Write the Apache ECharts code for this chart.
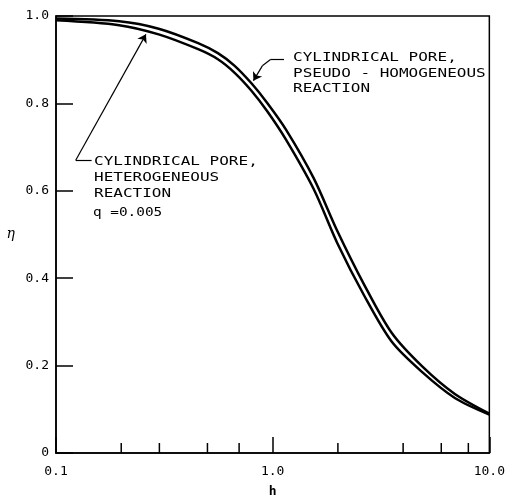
<!DOCTYPE html>
<html lang="en">
<head>
    <meta charset="UTF-8">
    <title>Effectiveness factor, cylindrical pore</title>
    <script src="https://cdn.jsdelivr.net/npm/echarts@6/dist/echarts.min.js"></script>
    <style>
        html, body { margin: 0; padding: 0; background: #fff; }
        #box { width: 508px; height: 503px; }
    </style>
</head>
<body>
<div id="box"></div>
<script>
    // h values and eta (both curves share the h grid)
    var hValues = [0.1, 0.1957, 0.2977, 0.4529, 0.5587, 0.6677, 0.798, 0.944, 1.152, 1.546, 1.988, 2.639, 3.54, 4.9, 6.928, 10];
    var etaPseudo = [0.994, 0.988, 0.971, 0.938, 0.915, 0.886, 0.846, 0.801, 0.740, 0.629, 0.508, 0.386, 0.275, 0.198, 0.135, 0.090];
    var etaHetero = [0.990, 0.979, 0.958, 0.924, 0.901, 0.870, 0.829, 0.782, 0.717, 0.604, 0.480, 0.361, 0.255, 0.185, 0.126, 0.088];

    // small ticks along the h axis
    var hMinorTicks = [0.2, 0.3, 0.5, 0.7, 2, 4, 6, 8];

    var labelFont = 'DejaVu Sans Mono';

    function pairs(xs, ys) {
        var out = [];
        for (var i = 0; i < xs.length; i++) {
            out.push([xs[i], ys[i]]);
        }
        return out;
    }

    var myChart = echarts.init(document.getElementById('box'));

    var leader = {
        silent: true,
        animation: false,
        symbol: ['none', 'none'],
        symbolSize: 8,
        label: { show: false },
        lineStyle: { color: '#000', width: 1.2, type: 'solid' },
        emphasis: { disabled: true }
    };

    var option = {
        animation: false,
        backgroundColor: '#fff',
        grid: {
            left: 56, right: 13, top: 16, bottom: 44,
            show: true, borderColor: '#000', borderWidth: 1.5,
            backgroundColor: 'transparent'
        },
        xAxis: {
            type: 'log',
            logBase: 10,
            min: 0.1,
            max: 10,
            name: 'h',
            nameLocation: 'middle',
            nameGap: 32,
            nameTextStyle: { fontFamily: labelFont, fontSize: 13, color: '#000', fontWeight: 'bold' },
            axisLine: { lineStyle: { color: '#000', width: 1.5 } },
            axisTick: { inside: true, length: 16, lineStyle: { color: '#000', width: 1.5 } },
            axisLabel: {
                color: '#000', fontFamily: labelFont, fontSize: 13, margin: 12,
                formatter: function (v) { return v.toFixed(1); }
            },
            splitLine: { show: false }
        },
        yAxis: {
            type: 'value',
            min: 0,
            max: 1,
            interval: 0.2,
            name: 'η',
            nameLocation: 'middle',
            nameRotate: 0,
            nameGap: 41,
            nameTextStyle: { fontFamily: 'DejaVu Serif', fontSize: 14, color: '#000', fontStyle: 'italic' },
            axisLine: { lineStyle: { color: '#000', width: 1.5 } },
            axisTick: { inside: true, length: 17, lineStyle: { color: '#000', width: 1.5 } },
            axisLabel: {
                color: '#000', fontFamily: labelFont, fontSize: 13, margin: 7,
                formatter: function (v) { return v === 0 ? '0' : v.toFixed(1); }
            },
            splitLine: { show: false }
        },
        series: [
            {
                name: 'Cylindrical pore, pseudo-homogeneous reaction',
                type: 'line',
                data: pairs(hValues, etaPseudo),
                smooth: 0.3,
                showSymbol: false,
                lineStyle: { color: '#000', width: 2.5 },
                silent: true,
                markLine: Object.assign({}, leader, {
                    data: [
                        [{ coord: [1.128, 0.90] }, { coord: [0.974, 0.90] }],
                        [{ coord: [0.974, 0.90] }, { coord: [0.896, 0.886] }],
                        [{ coord: [0.896, 0.886] }, { coord: [0.815, 0.852], symbol: 'arrow' }]
                    ]
                })
            },
            {
                name: 'Cylindrical pore, heterogeneous reaction',
                type: 'line',
                data: pairs(hValues, etaHetero),
                smooth: 0.3,
                showSymbol: false,
                lineStyle: { color: '#000', width: 2.5 },
                silent: true,
                markLine: Object.assign({}, leader, {
                    data: [
                        [{ coord: [0.146, 0.670] }, { coord: [0.1233, 0.670] }],
                        [{ coord: [0.1233, 0.670] }, { coord: [0.26, 0.958], symbol: 'arrow' }]
                    ]
                })
            },
            {
                name: 'minor ticks',
                type: 'custom',
                silent: true,
                data: hMinorTicks.map(function (v) { return [v, 0]; }),
                renderItem: function (params, api) {
                    var p = api.coord([api.value(0), 0]);
                    return {
                        type: 'line',
                        shape: { x1: p[0], y1: p[1], x2: p[0], y2: p[1] - 10 },
                        style: { stroke: '#000', lineWidth: 1.5 }
                    };
                }
            }
        ],
        graphic: [
            {
                type: 'text', x: 94, y: 154, scaleX: 1.28, silent: true,
                style: {
                    text: 'CYLINDRICAL PORE,\nHETEROGENEOUS\nREACTION',
                    fontFamily: labelFont, fontSize: 12.5, lineHeight: 16, fill: '#000'
                }
            },
            {
                type: 'text', x: 93, y: 205, scaleX: 1.15, silent: true,
                style: { text: 'q =0.005', fontFamily: labelFont, fontSize: 12.5, lineHeight: 16, fill: '#000' }
            },
            {
                type: 'text', x: 293, y: 50, scaleX: 1.28, silent: true,
                style: {
                    text: 'CYLINDRICAL PORE,\nPSEUDO - HOMOGENEOUS\nREACTION',
                    fontFamily: labelFont, fontSize: 12.5, lineHeight: 15.5, fill: '#000'
                }
            }
        ]
    };

    myChart.setOption(option);
</script>
</body>
</html>
